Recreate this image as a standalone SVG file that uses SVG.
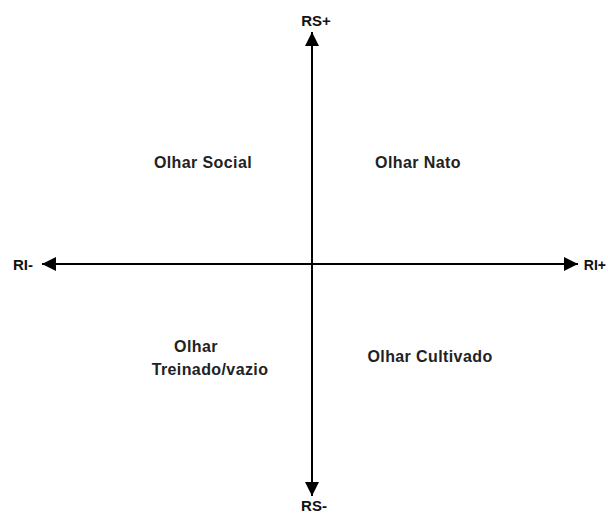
<svg xmlns="http://www.w3.org/2000/svg" width="608" height="515" viewBox="0 0 608 515">
<defs>
<marker id="ah" viewBox="0 0 10 10" refX="10" refY="5" markerWidth="7.5" markerHeight="7" markerUnits="strokeWidth" orient="auto">
<path d="M0,0 L10,5 L0,10 z" fill="#000"/>
</marker>
<style>
text{font-family:"Liberation Sans",Arial,sans-serif;font-weight:bold;font-size:16px;letter-spacing:0.4px;fill:#222;text-anchor:middle}
.ax{font-size:15px;letter-spacing:0;fill:#111}
.axis{stroke:#000;stroke-width:2;fill:none}
</style>
</defs>
<rect width="608" height="515" fill="#fff"/>
<g id="connectors">
<line class="axis" x1="312" y1="264" x2="312" y2="32" marker-end="url(#ah)"/>
<line class="axis" x1="312" y1="264" x2="312" y2="496" marker-end="url(#ah)"/>
<line class="axis" x1="312" y1="264" x2="42" y2="264" marker-end="url(#ah)"/>
<line class="axis" x1="312" y1="264" x2="578" y2="264" marker-end="url(#ah)"/>
</g>
<g id="rs-plus"><text class="ax" x="316" y="26">RS+</text></g>
<g id="rs-minus"><text class="ax" x="314" y="511">RS-</text></g>
<g id="ri-minus"><text class="ax" x="23" y="270">RI-</text></g>
<g id="ri-plus"><text class="ax" x="606" y="270" style="text-anchor:end;font-size:14px">RI+</text></g>
<g id="olhar-social"><text x="203" y="168">Olhar Social</text></g>
<g id="olhar-nato"><text x="418" y="168">Olhar Nato</text></g>
<g id="olhar-treinado"><text x="196" y="352">Olhar</text><text x="210" y="375">Treinado/vazio</text></g>
<g id="olhar-cultivado"><text x="430" y="362">Olhar Cultivado</text></g>
</svg>
